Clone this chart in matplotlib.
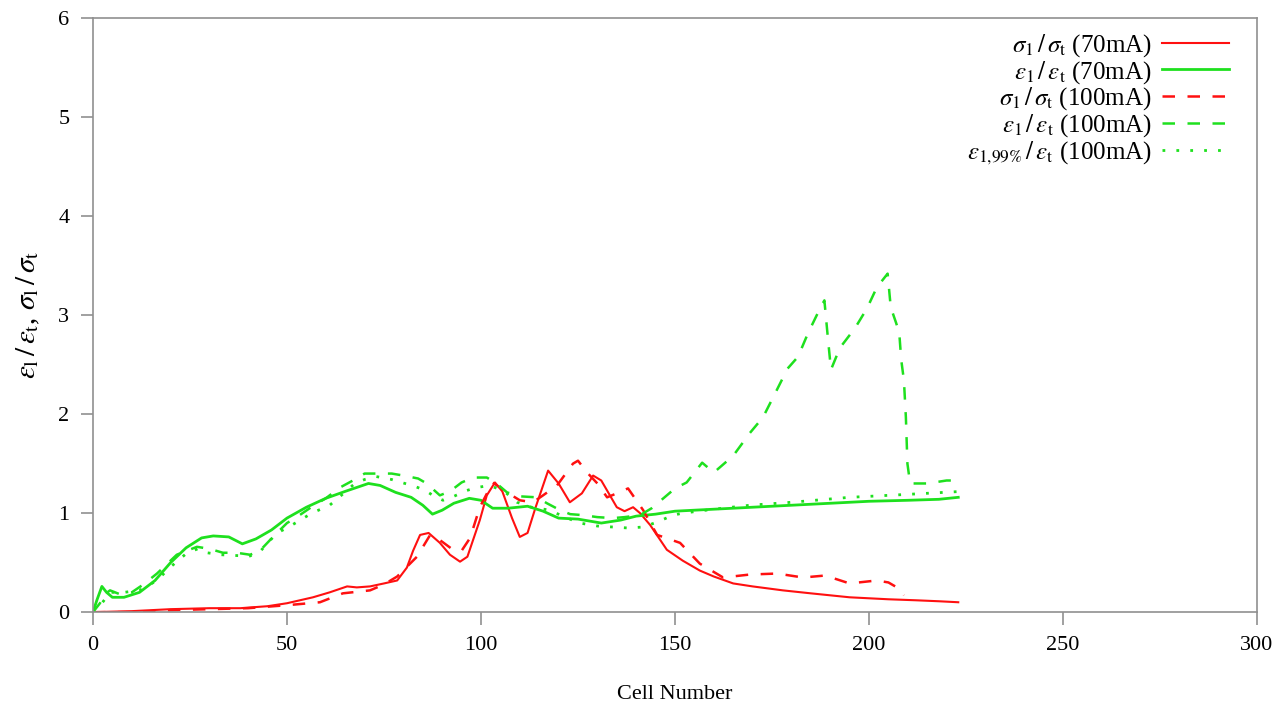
import matplotlib
matplotlib.use("Agg")
import matplotlib.pyplot as plt

plt.rcParams['font.family'] = ['Liberation Serif', 'DejaVu Serif']
plt.rcParams['mathtext.fontset'] = 'stix'

# eps_l / eps_t (70mA)
eps70_x = [0, 1, 2.3, 3.5, 5, 8, 12, 16, 20, 24, 28, 31, 35, 38.5, 42, 46, 50, 55, 60, 65, 68, 71, 74, 78,
           82, 85, 87.5, 90, 93, 97, 100, 103, 107, 112, 116, 120, 125, 131, 136, 140, 145, 150, 160, 170,
           180, 190, 200, 210, 218, 223]
eps70_y = [0, 0.12, 0.26, 0.2, 0.15, 0.15, 0.2, 0.32, 0.5, 0.65, 0.75, 0.77, 0.76, 0.69, 0.74, 0.83, 0.95,
           1.06, 1.15, 1.22, 1.26, 1.30, 1.28, 1.21, 1.16, 1.08, 0.99, 1.03, 1.10, 1.15, 1.13, 1.05, 1.05,
           1.07, 1.02, 0.95, 0.94, 0.90, 0.93, 0.97, 0.99, 1.02, 1.04, 1.06, 1.08, 1.10, 1.12, 1.13, 1.14, 1.16]

# eps_l / eps_t (100mA)
eps100_x = [0, 1.8, 3, 4.4, 7, 10, 13, 16.5, 21.6, 26.8, 30, 33.5, 37, 40.5, 43, 46.4, 50, 52.5, 57, 60,
            63.7, 67, 70, 73, 77, 80, 83.8, 86, 89.4, 92, 95, 98, 101.5, 104, 106.7, 110, 114.4, 117, 120.4,
            123, 126.3, 130, 134, 137, 141, 144, 147, 150, 153, 157, 160, 165, 169.3, 172.7, 175.8, 179,
            181.7, 184.3, 187.4, 188.5, 189.4, 190.2, 192.5, 196.4, 199.5, 202, 204.8, 205.6, 207, 207.8,
            208.3, 209, 209.5, 209.9, 210.6, 215, 220, 224]
eps100_y = [0, 0.09, 0.18, 0.22, 0.18, 0.2, 0.28, 0.39, 0.58, 0.66, 0.64, 0.6, 0.6, 0.58, 0.62, 0.76, 0.9,
            0.96, 1.08, 1.15, 1.26, 1.33, 1.40, 1.40, 1.40, 1.38, 1.35, 1.30, 1.18, 1.22, 1.31, 1.36, 1.36,
            1.30, 1.21, 1.17, 1.16, 1.10, 1.03, 0.99, 0.98, 0.96, 0.95, 0.96, 0.98, 1.05, 1.15, 1.25, 1.31,
            1.51, 1.41, 1.58, 1.81, 1.97, 2.21, 2.46, 2.58, 2.82, 3.07, 3.15, 2.77, 2.45, 2.67, 2.87, 3.07,
            3.28, 3.42, 3.08, 2.92, 2.82, 2.55, 2.34, 1.97, 1.5, 1.30, 1.30, 1.33, 1.33]

# eps_l,99% / eps_t (100mA)
eps99_x = [0, 2.3, 4.4, 8, 12, 16.5, 19.8, 24, 27, 29.4, 33, 37.9, 40, 43, 47.4, 50, 53, 56.4, 61, 64,
           67.5, 70, 73, 77, 80.4, 83, 85.6, 88, 90.2, 93, 96.4, 99, 102.3, 106, 109.3, 113, 117.8, 121,
           125.5, 130, 134, 138, 141.8, 145.4, 149.5, 152, 160, 169.3, 180, 195, 210, 224]
eps99_y = [0, 0.09, 0.2, 0.2, 0.22, 0.32, 0.45, 0.59, 0.64, 0.60, 0.58, 0.57, 0.56, 0.61, 0.8, 0.85, 0.92,
           1.0, 1.08, 1.18, 1.30, 1.34, 1.37, 1.34, 1.30, 1.27, 1.23, 1.17, 1.13, 1.17, 1.23, 1.26, 1.28,
           1.22, 1.11, 1.06, 1.03, 0.97, 0.90, 0.87, 0.86, 0.85, 0.86, 0.91, 0.98, 1.0, 1.04, 1.08, 1.11,
           1.16, 1.19, 1.22]

# sig_l / sig_t (70mA)
sig70_x = [0, 10, 20, 30, 38, 45, 50, 56.7, 61, 65.5, 68, 71.4, 75, 78.4, 80.9, 82.5, 84.3, 86.5, 89.4, 92,
           94.6, 96.5, 99.7, 101.5, 103.6, 105.5, 108, 110, 112, 114, 117.3, 120, 122.9, 126, 128.9, 131,
           135, 137, 139.2, 141, 143.6, 147.9, 152, 156.4, 160, 165, 170, 177.8, 185, 195, 205, 212, 218, 223]
sig70_y = [0, 0.01, 0.03, 0.04, 0.04, 0.06, 0.09, 0.15, 0.2, 0.26, 0.25, 0.26, 0.29, 0.32, 0.45, 0.62,
           0.78, 0.80, 0.70, 0.58, 0.51, 0.56, 0.93, 1.18, 1.31, 1.22, 0.95, 0.76, 0.80, 1.05, 1.43, 1.3,
           1.11, 1.20, 1.38, 1.33, 1.06, 1.02, 1.06, 1.0, 0.88, 0.63, 0.52, 0.42, 0.36, 0.29, 0.26, 0.22,
           0.19, 0.15, 0.13, 0.12, 0.11, 0.10]

# sig_l / sig_t (100mA)
sig100_x = [0, 10, 20, 30, 40, 50, 58.5, 64.4, 71.4, 75, 78.4, 83.5, 86.9, 89, 92.8, 95, 97.2, 99.7, 103,
            106.7, 110, 113.4, 116, 119.6, 123.7, 125, 127.6, 130, 132.5, 135, 137.9, 141.8, 145.4, 151.3,
            156.4, 162.4, 169.3, 176.3, 183, 188.7, 195, 202, 205, 207.2, 208.5, 209]
sig100_y = [0, 0.0, 0.02, 0.03, 0.04, 0.07, 0.10, 0.19, 0.22, 0.28, 0.36, 0.56, 0.78, 0.74, 0.63, 0.62,
            0.75, 1.06, 1.31, 1.21, 1.13, 1.11, 1.18, 1.28, 1.50, 1.53, 1.40, 1.30, 1.16, 1.20, 1.25, 1.03,
            0.78, 0.70, 0.49, 0.35, 0.38, 0.39, 0.35, 0.37, 0.29, 0.32, 0.30, 0.25, 0.20, 0.17]

red = '#ff1010'
green = '#1ee01e'

fig = plt.figure(figsize=(12.84, 7.02), dpi=100)
ax = fig.add_axes([0.0724, 0.128, 0.9066, 0.846])

ax.plot(sig70_x, sig70_y, color=red, lw=1.5, label=r'$\sigma_1\,/\,\sigma_{\rm t}$ (70mA)')
ax.plot(eps70_x, eps70_y, color=green, lw=2.0, label=r'$\varepsilon_1\,/\,\varepsilon_{\rm t}$ (70mA)')
ax.plot(sig100_x, sig100_y, color=red, lw=1.8, dashes=(5, 5), label=r'$\sigma_1\,/\,\sigma_{\rm t}$ (100mA)')
ax.plot(eps100_x, eps100_y, color=green, lw=1.8, dashes=(5, 5), label=r'$\varepsilon_1\,/\,\varepsilon_{\rm t}$ (100mA)')
ax.plot(eps99_x, eps99_y, color=green, lw=2.0, dashes=(1, 4), label=r'$\varepsilon_{1{,}99\%}\,/\,\varepsilon_{\rm t}$ (100mA)')

ax.set_xlim(0, 300)
ax.set_ylim(0, 6)
ax.set_xticks(range(0, 301, 50))
ax.set_yticks(range(0, 7))

for s in ax.spines.values():
    s.set_color('#909090')
    s.set_linewidth(1.2)
ax.tick_params(direction='out', length=9, width=1.2, color='#909090', labelsize=16, pad=8)

ax.set_xlabel('Cell Number', fontsize=16, labelpad=22)
ax.set_ylabel(r'$\varepsilon_{\rm l}\,/\,\varepsilon_{\rm t}$, $\sigma_{\rm l}\,/\,\sigma_{\rm t}$', fontsize=21, labelpad=12)

leg = ax.legend(loc='upper right', bbox_to_anchor=(0.976, 0.977), frameon=False, markerfirst=False,
                fontsize=18, handlelength=2.7, labelspacing=0.0, handletextpad=0.4,
                borderpad=0, borderaxespad=0)
for t in leg.get_texts():
    t.set_ha('right')

fig.savefig('out.png', dpi=100)
